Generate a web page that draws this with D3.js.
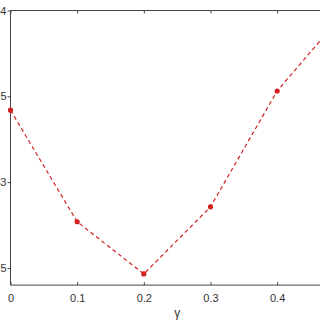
<!DOCTYPE html>
<html><head><meta charset="utf-8">
<script src="https://cdn.jsdelivr.net/npm/d3@7/dist/d3.min.js"></script>
<style>html,body{margin:0;padding:0;background:#fff;overflow:hidden}</style>
</head><body>
<svg id="c" width="320" height="320"></svg>
<script>
const gammaValues = [0, 0.1, 0.2, 0.3, 0.4, 0.5];
const seriesValues = [0.83419, 0.82769, 0.82465, 0.82856, 0.83531, 0.83985];
const xTickValues = [0, 0.1, 0.2, 0.3, 0.4, 0.5];
const yTickValues = [0.825, 0.83, 0.835, 0.84];
const xLabel = "γ";

const svg = d3.select("#c");
const x = d3.scaleLinear().domain([0, 0.5]).range([10.5, 343.8]);
const y = d3.scaleLinear().domain([0.824, 0.84]).range([285.1, 10.5]);
const axisColor = "#444";

// box lines
svg.append("line").attr("x1", x(0)).attr("x2", x(0.5)).attr("y1", y(0.84)).attr("y2", y(0.84))
  .attr("stroke", axisColor).attr("stroke-width", 1);
svg.append("line").attr("x1", x(0)).attr("x2", x(0.5)).attr("y1", y(0.824)).attr("y2", y(0.824))
  .attr("stroke", axisColor).attr("stroke-width", 1);
svg.append("line").attr("x1", x(0)).attr("x2", x(0)).attr("y1", y(0.824)).attr("y2", y(0.84))
  .attr("stroke", axisColor).attr("stroke-width", 1);

// bottom axis (inward ticks)
const xb = svg.append("g").attr("transform", `translate(0,${y(0.824)})`)
  .call(d3.axisBottom(x).tickValues(xTickValues).tickSizeInner(-3).tickSizeOuter(0).tickPadding(9)
    .tickFormat(d => d === 0 ? "0" : d3.format(".1f")(d)));
xb.select(".domain").remove();
xb.selectAll("line").attr("stroke", axisColor);
xb.selectAll("text").attr("fill", "#333").style("font-family", "Liberation Sans, Arial, sans-serif").style("font-size", "11px");

// top ticks
const xt = svg.append("g").attr("transform", `translate(0,${y(0.84)})`)
  .call(d3.axisTop(x).tickValues(xTickValues).tickSizeInner(-3).tickSizeOuter(0).tickFormat(""));
xt.select(".domain").remove();
xt.selectAll("line").attr("stroke", axisColor);

// left axis
const yl = svg.append("g").attr("transform", `translate(${x(0)},0)`)
  .call(d3.axisLeft(y).tickValues(yTickValues).tickSizeInner(3).tickSizeOuter(0).tickPadding(1)
    .tickFormat(d3.format("")));
yl.select(".domain").remove();
yl.selectAll("line").attr("stroke", axisColor);
yl.selectAll("text").attr("fill", "#333").style("font-family", "Liberation Sans, Arial, sans-serif").style("font-size", "11px");

// x label
svg.append("text").attr("x", x(0.25)).attr("y", 317).attr("text-anchor", "middle")
  .attr("fill", "#333").style("font-family", "Liberation Sans, Arial, sans-serif").style("font-size", "12px")
  .text(xLabel);

const data = gammaValues.map((g, i) => ({g, v: seriesValues[i]}));
svg.append("path").datum(data)
  .attr("fill", "none").attr("stroke", "#d02020").attr("stroke-width", 1.2)
  .attr("stroke-dasharray", "4,3")
  .attr("d", d3.line().x(d => x(d.g)).y(d => y(d.v)));
svg.selectAll("circle.pt").data(data).enter().append("circle")
  .attr("class", "pt").attr("cx", d => x(d.g)).attr("cy", d => y(d.v)).attr("r", 2.6)
  .attr("fill", "#d42020");
</script>
</body></html>
